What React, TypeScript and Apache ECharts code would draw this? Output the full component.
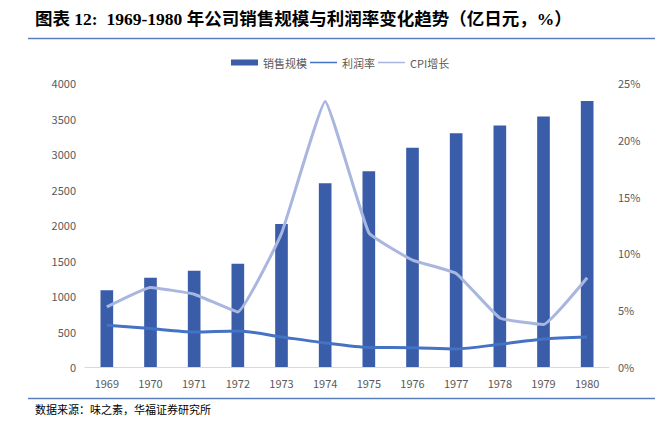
import React, { useEffect, useRef } from "react";
import * as echarts from "echarts";

const years = ["1969", "1970", "1971", "1972", "1973", "1974", "1975", "1976", "1977", "1978", "1979", "1980"];
const sales = [1082, 1256, 1355, 1454, 2014, 2588, 2758, 3087, 3294, 3402, 3529, 3746];
const profitRate = [3.68, 3.38, 3.09, 3.18, 2.65, 2.12, 1.72, 1.70, 1.59, 2.0, 2.47, 2.65];
const cpiGrowth = [5.29, 7.0, 6.41, 4.85, 11.76, 23.38, 11.82, 9.41, 8.24, 4.32, 3.74, 7.85];
const leftTicks = [0, 500, 1000, 1500, 2000, 2500, 3000, 3500, 4000];
const rightTicks = [0, 5, 10, 15, 20, 25];

const titleText = "图表 12:  1969-1980 年公司销售规模与利润率变化趋势（亿日元，%）";
const sourceText = "数据来源：味之素，华福证券研究所";

const lineIcon = "path://M0,0h27v0.01h-27zM0,2.25h27v1.5h-27zM0,5.99h27v0.01h-27z";

export default function App() {
  const ref = useRef<HTMLDivElement>(null);
  useEffect(() => {
    document.body.style.margin = "0";
    const chart = echarts.init(ref.current!, null, { renderer: "svg" });
    const labelColor = "#595959";
    const font = "'Noto Sans CJK SC', 'Noto Sans', sans-serif";
    chart.setOption({
      animation: false,
      backgroundColor: "#ffffff",
      textStyle: { fontFamily: font },
      legend: {
        top: 52,
        left: 226,
        itemWidth: 27,
        itemHeight: 6,
        itemGap: 3,
        textStyle: { color: labelColor, fontSize: 11, fontFamily: font },
        data: [
          { name: "销售规模", icon: "rect" },
          { name: "利润率", icon: lineIcon },
          { name: "CPI增长", icon: lineIcon },
        ],
      },
      grid: { left: 85, right: 51, top: 83, bottom: 58, containLabel: false },
      xAxis: {
        type: "category",
        data: years,
        axisLine: { lineStyle: { color: "#D9D9D9", width: 1 } },
        axisTick: { show: false },
        axisLabel: { color: labelColor, fontSize: 11, margin: 10 },
      },
      yAxis: [
        {
          type: "value",
          min: leftTicks[0],
          max: leftTicks[leftTicks.length - 1],
          interval: 500,
          splitLine: { show: false },
          axisLine: { show: false },
          axisTick: { show: false },
          axisLabel: { color: labelColor, fontSize: 11, margin: 9, formatter: (v: number) => String(v) },
        },
        {
          type: "value",
          min: rightTicks[0],
          max: rightTicks[rightTicks.length - 1],
          interval: 5,
          splitLine: { show: false },
          axisLine: { show: false },
          axisTick: { show: false },
          axisLabel: { color: labelColor, fontSize: 11, margin: 9, formatter: "{value}%" },
        },
      ],
      series: [
        {
          name: "销售规模",
          type: "bar",
          data: sales,
          barWidth: "29%",
          itemStyle: { color: "#3A5DA9" },
        },
        {
          name: "利润率",
          type: "line",
          yAxisIndex: 1,
          data: profitRate,
          smooth: 0.25,
          symbol: "none",
          lineStyle: { color: "#4472C4", width: 3 },
          itemStyle: { color: "#4472C4" },
        },
        {
          name: "CPI增长",
          type: "line",
          yAxisIndex: 1,
          data: cpiGrowth,
          smooth: 0.1,
          symbol: "none",
          lineStyle: { color: "#A9B7E0", width: 3 },
          itemStyle: { color: "#A9B7E0" },
        },
      ],
      graphic: [
        {
          type: "text",
          left: 35,
          top: 10,
          style: {
            text: titleText,
            fill: "#000000",
            font: "bold 17.5px 'Liberation Serif', 'Noto Sans CJK SC', serif",
          },
        },
        {
          type: "line",
          shape: { x1: 28, y1: 38.5, x2: 655, y2: 38.5 },
          style: { stroke: "#5A7FC1", lineWidth: 1.5 },
        },
        {
          type: "line",
          shape: { x1: 28, y1: 398.5, x2: 655, y2: 398.5 },
          style: { stroke: "#5A7FC1", lineWidth: 1.5 },
        },
        {
          type: "text",
          left: 35,
          top: 403,
          style: {
            text: sourceText,
            fill: "#000000",
            font: "11px 'Noto Sans CJK SC', sans-serif",
          },
        },
      ],
    });
    return () => chart.dispose();
  }, []);
  return <div ref={ref} style={{ width: 660, height: 425 }} />;
}
